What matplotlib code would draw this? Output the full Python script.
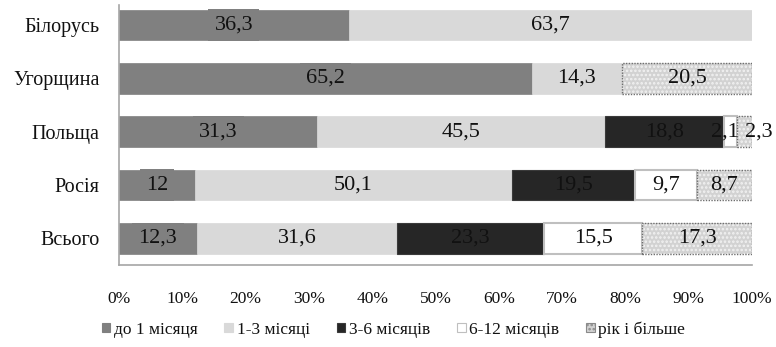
import matplotlib
matplotlib.use("Agg")
import matplotlib.pyplot as plt
from matplotlib.patches import Patch
from matplotlib.ticker import FuncFormatter

plt.rcParams['font.family'] = 'Liberation Serif'
plt.rcParams['hatch.linewidth'] = 1.2

# Categories (bottom to top on the chart)
countries = ['Всього', 'Росія', 'Польща', 'Угорщина', 'Білорусь']

# Share of respondents by duration of stay, %
up_to_1_month = [12.3, 12, 31.3, 65.2, 36.3]
months_1_3 = [31.6, 50.1, 45.5, 14.3, 63.7]
months_3_6 = [23.3, 19.5, 18.8, 0, 0]
months_6_12 = [15.5, 9.7, 2.1, 0, 0]
year_or_more = [17.3, 8.7, 2.3, 20.5, 0]

series_names = ['до 1 місяця', '1-3 місяці', '3-6 місяців', '6-12 місяців', 'рік і більше']
series = [up_to_1_month, months_1_3, months_3_6, months_6_12, year_or_more]

x_ticks = [0, 10, 20, 30, 40, 50, 60, 70, 80, 90, 100]

styles = [
    dict(facecolor='#808080', edgecolor='#808080', linewidth=0.5),
    dict(facecolor='#d9d9d9', edgecolor='#d9d9d9', linewidth=0.5),
    dict(facecolor='#262626', edgecolor='#3a3a3a', linewidth=0.8),
    dict(facecolor='#ffffff', edgecolor='#bfbfbf', linewidth=1.5),
    dict(facecolor='#d2d2d2', edgecolor='#f2f2f2', linewidth=0, hatch='....'),
]

fig = plt.figure(figsize=(7.76, 3.47), dpi=100)
ax = fig.add_axes([0.1534, 0.2363, 0.969 - 0.1534, 0.9856 - 0.2363])

ypos = list(range(len(countries)))
bar_h = 0.58


def fmt(v):
    return f"{v:g}".replace('.', ',')


left = [0.0] * len(countries)
for si, (name, vals) in enumerate(zip(series_names, series)):
    for i, v in enumerate(vals):
        if v <= 0:
            continue
        ax.barh(ypos[i], v, left=left[i], height=bar_h, **styles[si])
        if si == 4:
            # dotted outline over the textured fill
            ax.barh(ypos[i], v, left=left[i], height=bar_h, facecolor='none',
                    edgecolor='#6e6e6e', linewidth=1.0, linestyle=(0, (1, 1)))
        cx = left[i] + v / 2
        dx = 0
        if v < 4:
            # narrow segments: push neighbouring labels apart
            dx = -4 if si == 3 else 10
        kw = dict(ha='center', va='center', fontsize=16, color='#111111',
                  textcoords='offset points', xytext=(dx, 0))
        if si == 0:
            kw['bbox'] = dict(boxstyle='square,pad=0.28', facecolor='#808080',
                              edgecolor='none')
        ax.annotate(fmt(v), (cx, ypos[i]), **kw)
        left[i] += v

ax.set_xlim(0, 100)
ax.set_ylim(-0.5, len(countries) - 1 + 0.375)
ax.set_xticks(x_ticks)
ax.xaxis.set_major_formatter(FuncFormatter(lambda v, p: f"{v:g}%"))
ax.set_yticks(ypos)
ax.set_yticklabels(countries)
ax.tick_params(axis='x', length=0, pad=19, labelsize=12.5, labelcolor='#111111')
ax.tick_params(axis='y', length=0, pad=14, labelsize=14.5, labelcolor='#111111')

for s in ['top', 'right']:
    ax.spines[s].set_visible(False)
for s in ['left', 'bottom']:
    ax.spines[s].set_color('#a6a6a6')
    ax.spines[s].set_linewidth(1.2)

handles = [Patch(**{k: v for k, v in st.items() if k != 'linewidth'}, linewidth=0.8)
           for st in styles]
handles[4] = Patch(facecolor='#d2d2d2', edgecolor='#8a8a8a', hatch='....', linewidth=0.8)
fig.legend(handles, series_names, loc='lower center', bbox_to_anchor=(0.507, -0.018),
           ncol=5, frameon=False, fontsize=12.5, handlelength=0.5, handleheight=0.5,
           handletextpad=0.2, columnspacing=1.55, labelcolor='#111111')

fig.savefig('out.png', dpi=100)
